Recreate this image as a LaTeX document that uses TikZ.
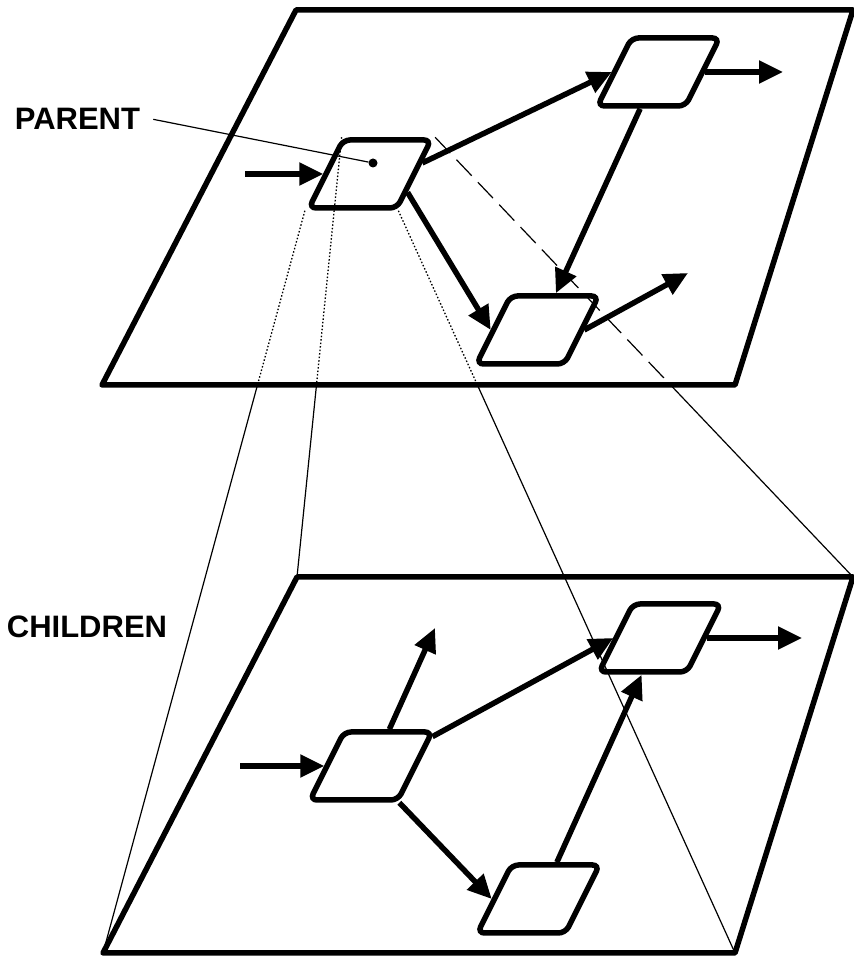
\documentclass[tikz,border=0pt]{standalone}
\usepackage{fontspec}
\setmainfont{Liberation Sans}
\usetikzlibrary{arrows.meta,calc}
\tikzset{
  plane/.style={line width=5.5pt, line join=round},
  pbox/.style={draw, line width=5.5pt, rounded corners=7pt, minimum width=88pt, minimum height=68pt, inner sep=0pt, transform shape},
  arr/.style={line width=5.5pt, -{Triangle[length=24pt,width=22pt]}},
  thinline/.style={line width=1.2pt},
  dotline/.style={line width=1.3pt, dash pattern=on 1.5pt off 2pt},
  dashline/.style={line width=1.2pt, dash pattern=on 22pt off 9pt},
  lab/.style={font=\bfseries\fontsize{31}{31}\selectfont, inner sep=0pt, anchor=base}
}
\newcommand\mkbox[3]{\begin{scope}[shift={(#2,#3)},xslant=0.5]\node[pbox] (#1) at (0,0) {};\end{scope}}
\begin{document}
\begin{tikzpicture}[x=1pt,y=1pt]
\useasboundingbox (0,0) rectangle (854,956);
% planes
\coordinate (ubl) at (102,571); \coordinate (ubr) at (735,571);
\coordinate (utr) at (853,946); \coordinate (utl) at (296,946);
\coordinate (lbl) at (103,3); \coordinate (lbr) at (735,3);
\coordinate (ltr) at (853,379); \coordinate (ltl) at (297,379);
\draw[plane] (ubl) -- (ubr) -- (utr) -- (utl) -- cycle;
\draw[plane] (lbl) -- (lbr) -- (ltr) -- (ltl) -- cycle;
% boxes
\mkbox{P}{370}{782}
\mkbox{U1}{658.5}{884}
\mkbox{U2}{537.5}{626}
\mkbox{L0}{371}{190}
\mkbox{L1}{660}{318}
\mkbox{L2}{538.5}{57}
% projection lines
\draw[dotline] (P.south west) -- ($(P.south west)!0.2376!(lbl)$) coordinate (ca);
\draw[thinline] (ca) -- (lbl);
\draw[dotline] (P.north west) -- ($(P.north west)!0.5606!(ltl)$) coordinate (cb);
\draw[thinline] (cb) -- (ltl);
\draw[dotline] (P.south east) -- ($(P.south east)!0.2376!(lbr)$) coordinate (cc);
\draw[thinline] (cc) -- (lbr);
\draw[dashline] (P.north east) -- ($(P.north east)!0.5606!(ltr)$) coordinate (cd);
\draw[thinline] (cd) -- (ltr);
% labels
\node[lab] (plab) at (77.5,826) {PARENT};
\node[lab] (clab) at (87,318) {CHILDREN};
\node[circle, fill, inner sep=0pt, minimum size=9pt] (pd) at (373,793) {};
\draw[thinline] ([xshift=13pt]plab.east) -- (pd);
% upper arrows
\coordinate (uin) at (245,782);
\coordinate (u1out) at (783,884);
\coordinate (u2out) at (688,683);
\draw[arr] (uin) -- (P.west);
\draw[arr] ($(P.east)!0.3!(P.north east)$) -- (U1.west);
\draw[arr] ($(P.east)!0.5!(P.south east)$) -- (U2.west);
\draw[arr] (U1.south) -- (U2.north);
\draw[arr] (U1.east) -- (u1out);
\draw[arr] (U2.east) -- (u2out);
% lower arrows
\coordinate (lin) at (240,190);
\coordinate (l0up) at (435,328);
\coordinate (l1out) at (802,318);
\draw[arr] (lin) -- (L0.west);
\draw[arr] (L0.north) -- (l0up);
\draw[arr] ($(L0.east)!0.8!(L0.north east)$) -- (L1.west);
\draw[arr] (L0.south east) -- (L2.west);
\draw[arr] (L2.north) -- (L1.south);
\draw[arr] (L1.east) -- (l1out);
\end{tikzpicture}
\end{document}
